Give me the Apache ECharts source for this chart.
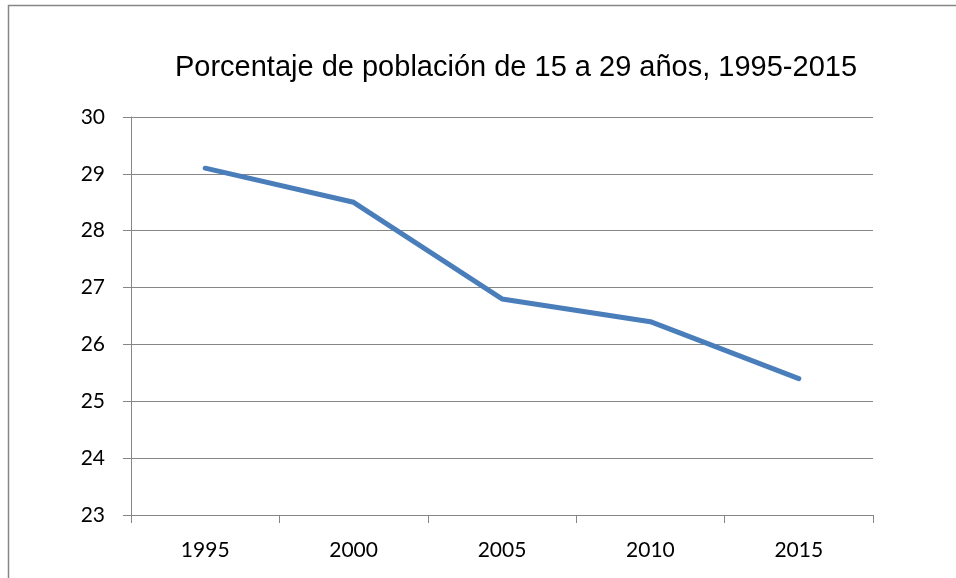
<!DOCTYPE html>
<html>
<head>
<meta charset="utf-8">
<script src="https://cdn.jsdelivr.net/npm/echarts@6/dist/echarts.min.js"></script>
<style>
  html, body { margin: 0; padding: 0; background: #fff; }
  #chart { width: 956px; height: 578px; }
</style>
</head>
<body>
<div id="chart"></div>
<script>
// datos
var years = ['1995', '2000', '2005', '2010', '2015'];
var porcentaje = [29.1, 28.5, 26.8, 26.4, 25.4];
var titulo = 'Porcentaje de población de 15 a 29 años, 1995-2015';

var chart = echarts.init(document.getElementById('chart'));
var gris = '#868686';
var option = {
  backgroundColor: '#fff',
  animation: false,
  title: {
    text: titulo,
    left: 511,
    top: 48,
    textAlign: 'center',
    textStyle: {
      fontFamily: 'Liberation Sans, Arial, sans-serif',
      fontSize: 29,
      fontWeight: 'normal',
      color: '#000'
    }
  },
  graphic: [{
    type: 'rect',
    shape: { x: 8.5, y: 5.5, width: 1000, height: 1000 },
    style: { fill: 'none', stroke: gris, lineWidth: 1.5 },
    silent: true
  }],
  grid: {
    left: 131,
    right: 83,
    top: 117,
    bottom: 63,
    containLabel: false
  },
  xAxis: {
    type: 'category',
    data: years,
    boundaryGap: true,
    axisLine: { show: true, lineStyle: { color: gris, width: 1 } },
    axisTick: { show: true, length: 8, lineStyle: { color: gris } },
    axisLabel: {
      margin: 25,
      fontFamily: 'Lato, sans-serif',
      fontSize: 21,
      color: '#000'
    },
    splitLine: { show: false }
  },
  yAxis: {
    type: 'value',
    min: 23,
    max: 30,
    interval: 1,
    axisLine: { show: true, lineStyle: { color: gris, width: 1 } },
    axisTick: { show: true, length: 8, lineStyle: { color: gris } },
    axisLabel: {
      margin: 26,
      fontFamily: 'Lato, sans-serif',
      fontSize: 21,
      color: '#000'
    },
    splitLine: { show: true, lineStyle: { color: gris, width: 1 } }
  },
  series: [{
    type: 'line',
    data: porcentaje,
    symbol: 'none',
    lineStyle: { color: '#4A7EBB', width: 5, cap: 'round', join: 'round' }
  }]
};
chart.setOption(option);
</script>
</body>
</html>
